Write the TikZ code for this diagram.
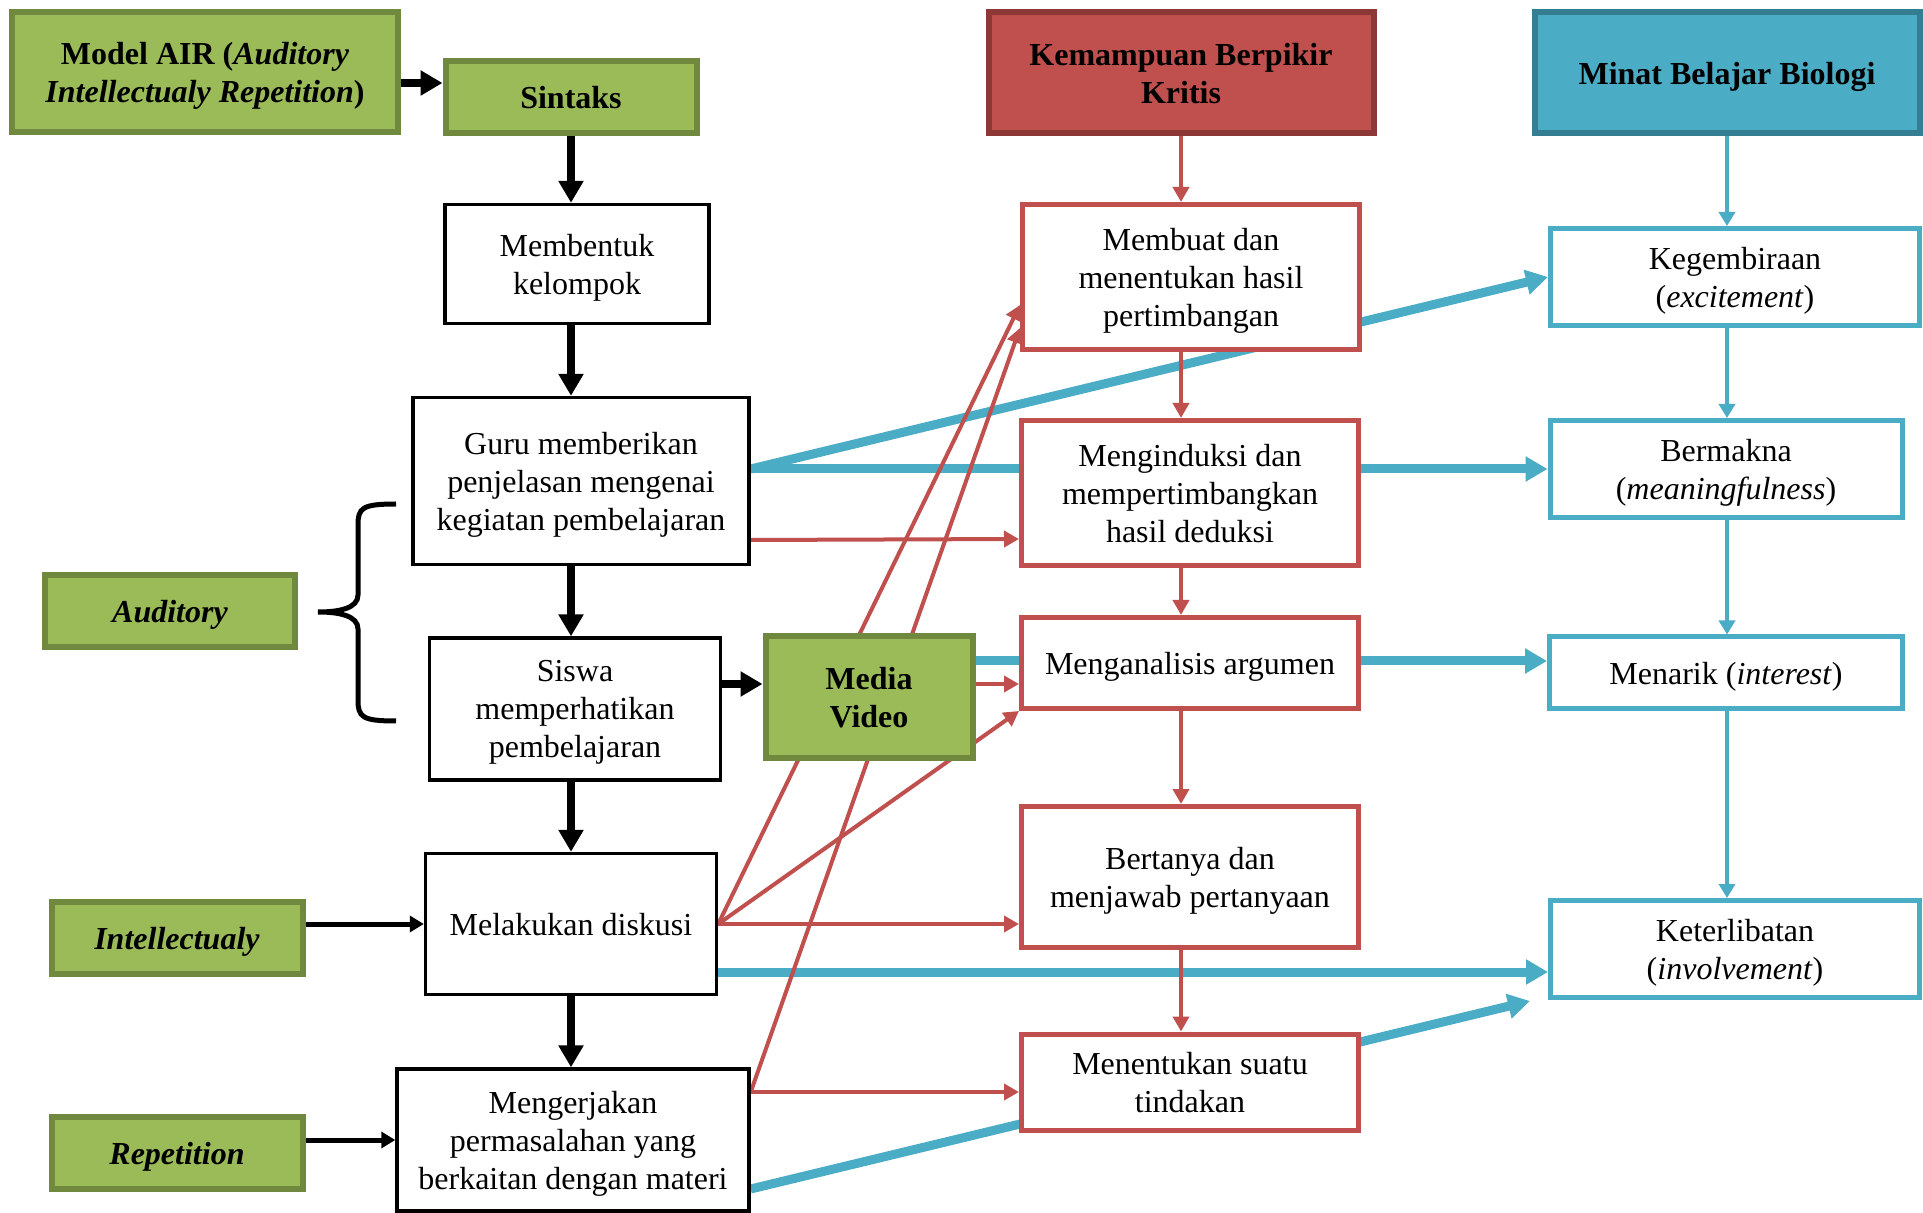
\documentclass[tikz,border=0pt]{standalone}
\usepackage{fontspec}
\setmainfont{Liberation Serif}
\usetikzlibrary{arrows.meta}
\newdimen\unitsize
\setlength{\unitsize}{0.5pt}
\definecolor{airgreen}{HTML}{9BBB59}
\definecolor{airgreendk}{HTML}{71893F}
\definecolor{kritred}{HTML}{C0504D}
\definecolor{kritreddk}{HTML}{8C3836}
\definecolor{minatblue}{HTML}{4BACC6}
\definecolor{minatbluedk}{HTML}{357D91}
\pgfdeclarelayer{links}
\pgfsetlayers{links,main}

\begin{document}
\begin{tikzpicture}[x=\unitsize,y=\unitsize,
  every node/.style={font=\fontsize{16}{19}\selectfont,align=center,inner sep=0pt,
    text depth=-1pt},
  greenbox/.style={fill=airgreen,draw=airgreendk,line width=3pt,
    font=\fontsize{16}{19}\selectfont\bfseries},
  blackbox/.style={fill=white,draw=black,line width=1.7pt},
  redbox/.style={fill=white,draw=kritred,line width=2.5pt,minimum width=337\unitsize},
  bluebox/.style={fill=white,draw=minatblue,line width=2.5pt},
  redhead/.style={fill=kritred,draw=kritreddk,line width=3pt,
    minimum width=385\unitsize,minimum height=121\unitsize,
    font=\fontsize{16}{19}\selectfont\bfseries},
  bluehead/.style={redhead,fill=minatblue,draw=minatbluedk},
  blkarrow/.style={line width=4pt,-{Triangle[length=11pt,width=12pt]}},
  blkthin/.style={line width=2.5pt,-{Triangle[length=7pt,width=8pt]}},
  redarrow/.style={kritred,line width=2pt,-{Triangle[length=7.5pt,width=8pt]}},
  bluearrow/.style={minatblue,line width=4.5pt,-{Triangle[length=11pt,width=12pt]}},
  bluethin/.style={minatblue,line width=2pt,-{Triangle[length=7pt,width=8pt]}}]
\useasboundingbox (0,0) rectangle (1923,-1213);

\node[greenbox,minimum width=386\unitsize,minimum height=120\unitsize] (model) at (205,-72)
  {Model AIR (\textit{Auditory}\\\textit{Intellectualy Repetition})};
\node[greenbox,minimum width=251\unitsize,minimum height=72\unitsize] (sintaks) at (571,-97) {Sintaks};
\node[greenbox,minimum width=250\unitsize,minimum height=72\unitsize] (auditory) at (170,-611) {\textit{Auditory}};
\node[greenbox,minimum width=251\unitsize,minimum height=72\unitsize] (intel) at (177,-938) {\textit{Intellectualy}};
\node[greenbox,minimum width=251\unitsize,minimum height=72\unitsize] (repet) at (177,-1153) {\textit{Repetition}};
\node[greenbox,minimum width=207\unitsize,minimum height=121\unitsize] (media) at (869,-697) {Media\\Video};

\node[blackbox,minimum width=264\unitsize,minimum height=119\unitsize] (membentuk) at (577,-264) {Membentuk\\kelompok};
\node[blackbox,minimum width=336\unitsize,minimum height=167\unitsize] (guru) at (581,-481)
  {Guru memberikan\\penjelasan mengenai\\kegiatan pembelajaran};
\node[blackbox,minimum width=291\unitsize,minimum height=142\unitsize] (siswa) at (575,-709)
  {Siswa\\memperhatikan\\pembelajaran};
\node[blackbox,minimum width=291\unitsize,minimum height=141\unitsize] (diskusi) at (571,-924) {Melakukan diskusi};
\node[blackbox,minimum width=352\unitsize,minimum height=142\unitsize] (kerjakan) at (573,-1140)
  {Mengerjakan\\permasalahan yang\\berkaitan dengan materi};

\node[redhead] (kritis) at (1181,-73) {Kemampuan Berpikir\\Kritis};
\node[redbox,minimum height=145\unitsize] (membuat) at (1191,-277) {Membuat dan\\menentukan hasil\\pertimbangan};
\node[redbox,minimum height=145\unitsize] (induksi) at (1190,-493) {Menginduksi dan\\mempertimbangkan\\hasil deduksi};
\node[redbox,minimum height=91\unitsize] (analisis) at (1190,-663) {Menganalisis argumen};
\node[redbox,minimum height=141\unitsize] (tanya) at (1190,-877) {Bertanya dan\\menjawab pertanyaan};
\node[redbox,minimum height=96\unitsize] (tindakan) at (1190,-1082) {Menentukan suatu\\tindakan};

\node[bluehead] (minat) at (1727,-73) {Minat Belajar Biologi};
\node[bluebox,minimum width=369\unitsize,minimum height=97\unitsize] (gembira) at (1735,-277)
  {Kegembiraan\\(\textit{excitement})};
\node[bluebox,minimum width=352\unitsize,minimum height=97\unitsize] (makna) at (1726,-469)
  {Bermakna\\(\textit{meaningfulness})};
\node[bluebox,minimum width=353\unitsize,minimum height=72\unitsize] (menarik) at (1726,-673)
  {Menarik (\textit{interest})};
\node[bluebox,minimum width=369\unitsize,minimum height=97\unitsize] (libat) at (1735,-949)
  {Keterlibatan\\(\textit{involvement})};

\begin{pgfonlayer}{links}
\draw[bluethin] (minat.south) -- (gembira.north -| minat);
\draw[bluethin] (gembira.south -| minat) -- (makna.north -| minat);
\draw[bluethin] (makna.south -| minat) -- (menarik.north -| minat);
\draw[bluethin] (menarik.south -| minat) -- (libat.north -| minat);
\draw[bluearrow] ([yshift=12\unitsize]guru.east) -- (gembira.west);
\draw[bluearrow] (makna.west -| guru.east) -- (makna.west);
\draw[bluearrow] ([yshift=36\unitsize]media.east) -- ([yshift=12\unitsize]menarik.west);
\draw[bluearrow] ([yshift=-48\unitsize]diskusi.east) -- ([yshift=-23\unitsize]libat.west);
\draw[bluearrow] ([yshift=-49\unitsize]kerjakan.east) -- ([xshift=-18\unitsize,yshift=-1\unitsize]libat.south west);

\draw[redarrow] (kritis.south) -- (membuat.north -| kritis);
\draw[redarrow] (membuat.south -| kritis) -- (induksi.north -| kritis);
\draw[redarrow] (induksi.south -| kritis) -- (analisis.north -| kritis);
\draw[redarrow] (analisis.south -| kritis) -- (tanya.north -| kritis);
\draw[redarrow] (tanya.south -| kritis) -- (tindakan.north -| kritis);
\draw[redarrow] ([yshift=-59\unitsize]guru.east) -- ([yshift=-46\unitsize]induksi.west);
\draw[redarrow] ([yshift=13\unitsize]media.east) -- ([yshift=-21\unitsize]analisis.west);
\draw[redarrow] (diskusi.east) -- (diskusi.east -| tanya.west);
\draw[redarrow] (diskusi.east) -- ([yshift=-28\unitsize]membuat.west);
\draw[redarrow] (diskusi.east) -- (analisis.south west);
\draw[redarrow] ([yshift=48\unitsize]kerjakan.east) -- ([yshift=-10\unitsize]tindakan.west);
\draw[redarrow] ([yshift=48\unitsize]kerjakan.east) -- ([yshift=-51\unitsize]membuat.west);

\draw[blkarrow] ([yshift=-11\unitsize]model.east) -- ([yshift=14\unitsize]sintaks.west);
\draw[blkarrow] (sintaks.south) -- (membentuk.north -| sintaks);
\draw[blkarrow] (membentuk.south -| sintaks) -- (guru.north -| sintaks);
\draw[blkarrow] (guru.south -| sintaks) -- (siswa.north -| sintaks);
\draw[blkarrow] (siswa.south -| sintaks) -- (diskusi.north -| sintaks);
\draw[blkarrow] (diskusi.south -| sintaks) -- (kerjakan.north -| sintaks);
\draw[blkarrow] ([yshift=25\unitsize]siswa.east) -- ([yshift=13\unitsize]media.west);
\draw[blkthin] (diskusi.west -| intel.east) -- (diskusi.west);
\draw[blkthin] (kerjakan.west -| repet.east) -- (kerjakan.west);
\end{pgfonlayer}

\draw[line width=2.5pt] (396,-504) .. controls (362,-504) and (358,-508) .. (358,-525)
  -- (358,-595) .. controls (358,-608) and (340,-612) .. (318,-612)
  .. controls (340,-612) and (358,-616) .. (358,-629)
  -- (358,-700) .. controls (358,-717) and (362,-721) .. (396,-721);
\end{tikzpicture}
\end{document}
